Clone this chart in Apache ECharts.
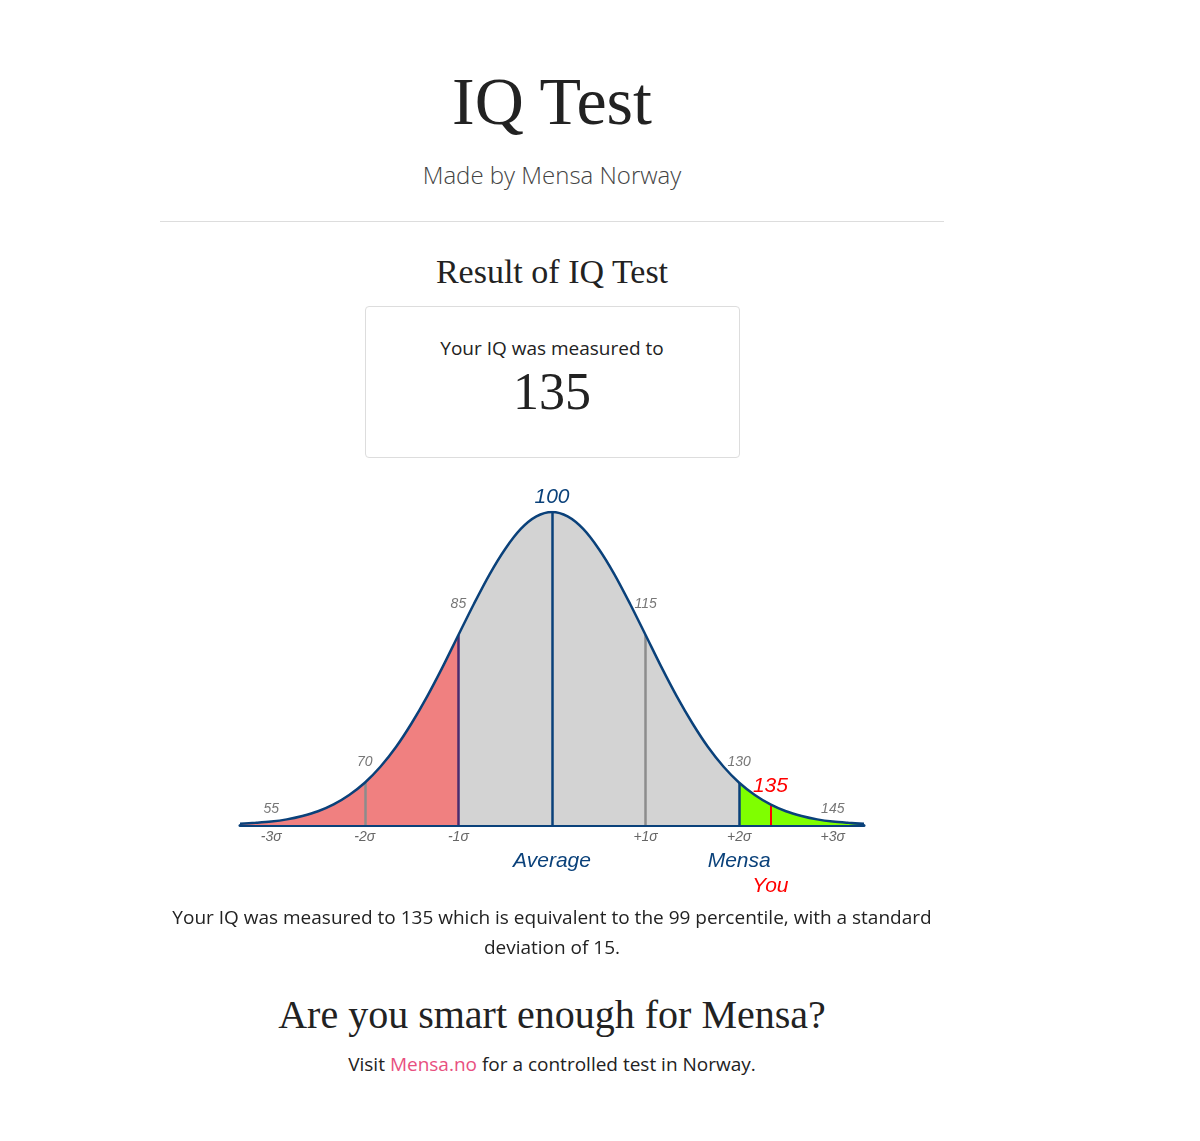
<!DOCTYPE html>
<html>
<head>
<meta charset="utf-8">
<script src="https://cdn.jsdelivr.net/npm/echarts@6/dist/echarts.min.js"></script>
<style>
  body { margin: 0; background: #fff; width: 1200px; height: 1141px; position: relative; font-family: "Open Sans", sans-serif; color: #222; }
  .c { position: absolute; left: 0; width: 1104px; text-align: center; }
  .serif { font-family: "Liberation Serif", serif; }
  hr { position: absolute; left: 160px; width: 784px; top: 221px; border: 0; border-top: 1px solid #ddd; margin: 0; }
  .box { position: absolute; left: 365px; top: 306px; width: 373px; height: 150px; border: 1px solid #ddd; border-radius: 4px; }
  #chart { position: absolute; left: 0; top: 470px; width: 1200px; height: 440px; }
  a { color: #e8507f; text-decoration: none; }
</style>
</head>
<body>
<div class="c serif" style="top:62px;font-size:68px;">IQ Test</div>
<div class="c" style="top:158px;font-size:24px;font-weight:300;color:#444;">Made by Mensa Norway</div>
<hr>
<div class="c serif" style="top:253px;font-size:34px;">Result of IQ Test</div>
<div class="box"></div>
<div class="c" style="top:335px;font-size:19px;">Your IQ was measured to</div>
<div class="c serif" style="top:362px;font-size:52px;">135</div>
<div id="chart"></div>
<div class="c" style="top:902px;left:160px;width:784px;font-size:19px;line-height:30px;">Your IQ was measured to 135 which is equivalent to the 99 percentile, with a standard deviation of 15.</div>
<div class="c serif" style="top:991px;font-size:40px;">Are you smart enough for Mensa?</div>
<div class="c" style="top:1051px;font-size:19px;">Visit <a>Mensa.no</a> for a controlled test in Norway.</div>
<script>
// relative height of the curve, read every 2.5 IQ points from 50 to 150
var iq = [50, 52.5, 55, 57.5, 60, 62.5, 65, 67.5, 70, 72.5, 75, 77.5, 80, 82.5, 85, 87.5, 90, 92.5, 95, 97.5, 100,
  102.5, 105, 107.5, 110, 112.5, 115, 117.5, 120, 122.5, 125, 127.5, 130, 132.5, 135, 137.5, 140, 142.5, 145, 147.5, 150];
var height = [0.004, 0.007, 0.011, 0.018, 0.029, 0.044, 0.066, 0.096, 0.135, 0.186, 0.249, 0.325, 0.411, 0.506, 0.607, 0.707, 0.801, 0.882, 0.946, 0.986, 1,
  0.986, 0.946, 0.882, 0.801, 0.707, 0.607, 0.506, 0.411, 0.325, 0.249, 0.186, 0.135, 0.096, 0.066, 0.044, 0.029, 0.018, 0.011, 0.007, 0.004];
var markIq = [55, 70, 85, 100, 115, 130, 145];
var sigmaLabels = ['-3σ', '-2σ', '-1σ', '', '+1σ', '+2σ', '+3σ'];
var score = 135;
var navy = '#0a417a';

var pts = iq.map(function (x, i) { return [x, height[i]]; });
function hAt(x) { return height[iq.indexOf(x)]; }
function seg(a, b) { return pts.filter(function (p) { return p[0] >= a && p[0] <= b; }); }
function area(a, b, color) {
  return { type: 'line', data: seg(a, b), smooth: 0.3, symbol: 'none', lineStyle: { width: 0 }, areaStyle: { color: color, opacity: 1 }, z: 1 };
}
var lineColors = { 70: '#8c8c8c', 85: '#4b2a6e', 100: navy, 115: '#8c8c8c', 130: navy };
var vlines = [70, 85, 100, 115, 130].map(function (x) {
  return { coords: [[x, 0], [x, hAt(x)]], lineStyle: { color: lineColors[x], width: 2.5, opacity: 1 } };
});
vlines.push({ coords: [[score, 0], [score, hAt(score)]], lineStyle: { color: '#ff0000', width: 2, opacity: 1 } });

var lab = { fontStyle: 'italic', fontFamily: 'Liberation Sans' };
function L(o) { return Object.assign({ show: true }, lab, o); }

var chart = echarts.init(document.getElementById('chart'));
chart.setOption({
  animation: false,
  grid: { left: 240, right: 336, top: 42, bottom: 85 },
  xAxis: { type: 'value', min: 50, max: 150, axisLine: { lineStyle: { color: navy, width: 3 } }, axisTick: { show: false }, axisLabel: { show: false }, splitLine: { show: false } },
  yAxis: { type: 'value', min: 0, max: 1, show: false },
  series: [
    area(50, 85, '#f08080'),
    area(85, 130, '#d3d3d3'),
    area(130, 150, '#7fff00'),
    { type: 'lines', coordinateSystem: 'cartesian2d', data: vlines, z: 2 },
    { type: 'line', data: pts, smooth: 0.3, symbol: 'none', lineStyle: { color: navy, width: 2.5 }, z: 3 },
    { type: 'scatter', symbolSize: 0, z: 4, itemStyle: { opacity: 1 },
      data: markIq.map(function (x) {
        var big = x === 100;
        return { value: [x, hAt(x)], label: L({ position: 'top', distance: big ? 4 : (x === 55 || x === 145 ? 5 : (x === 85 || x === 115 ? 24 : 14)),
          formatter: String(x), fontSize: big ? 21 : 14, color: big ? navy : '#777' }) };
      }).concat([{ value: [score, hAt(score)], label: L({ position: 'top', distance: 8, formatter: String(score), fontSize: 21, color: '#ff0000' }) }]) },
    { type: 'scatter', symbolSize: 0, z: 4, itemStyle: { opacity: 1 },
      data: markIq.map(function (x, i) {
        return { value: [x, 0], label: L({ position: 'bottom', distance: 5, formatter: sigmaLabels[i], fontSize: 14, color: '#666' }) };
      }).concat([
        { value: [100, 0], label: L({ position: 'bottom', distance: 26, formatter: 'Average', fontSize: 21, color: navy }) },
        { value: [130, 0], label: L({ position: 'bottom', distance: 26, formatter: 'Mensa', fontSize: 21, color: navy }) },
        { value: [score, 0], label: L({ position: 'bottom', distance: 51, formatter: 'You', fontSize: 21, color: '#ff0000' }) }
      ]) }
  ]
});
</script>
</body>
</html>
